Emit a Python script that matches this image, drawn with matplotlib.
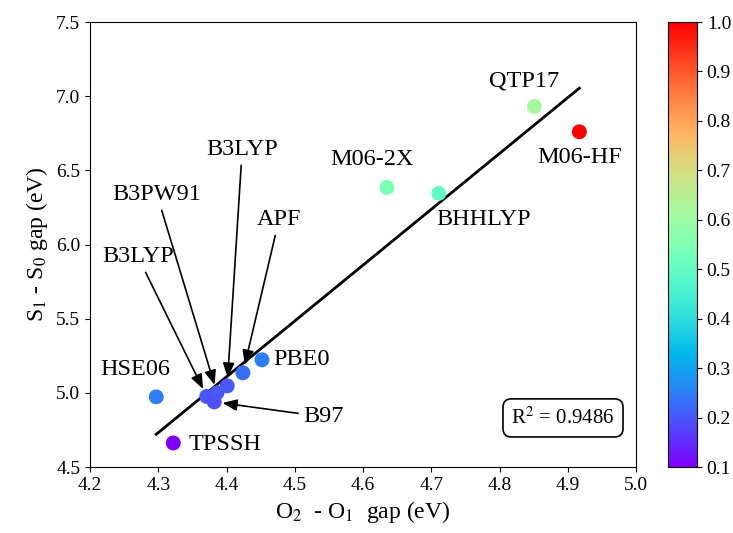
import numpy as np
import matplotlib
matplotlib.use("Agg")
import matplotlib.pyplot as plt

plt.rcParams['font.family'] = ['Liberation Serif', 'DejaVu Serif']
plt.rcParams['mathtext.fontset'] = 'stix'

# funcionales, gap O2-O1, gap S1-S0, fraccion HF
nombres = ["TPSSH", "HSE06", "B3LYP", "B97", "B3PW91", "B3LYP_b", "APF", "PBE0",
           "M06-2X", "BHHLYP", "QTP17", "M06-HF"]
gap_o = [4.322, 4.297, 4.371, 4.382, 4.386, 4.401, 4.424, 4.452,
         4.635, 4.711, 4.851, 4.917]
gap_s = [4.662, 4.973, 4.976, 4.939, 5.000, 5.047, 5.135, 5.223,
         6.385, 6.345, 6.930, 6.760]
frac_hf = [0.10, 0.25, 0.20, 0.19, 0.20, 0.20, 0.23, 0.25,
           0.54, 0.50, 0.62, 1.00]
r2_texto = "R$^2$ = 0.9486"

x = np.array(gap_o)
y = np.array(gap_s)
m, b = np.polyfit(x, y, 1)

fig = plt.figure(figsize=(7.33, 5.33), dpi=100)
ax = fig.add_axes([0.1228, 0.1238, 0.7449, 0.8349])
cax = fig.add_axes([0.9113, 0.1238, 0.0396, 0.8349])

xs = np.array([x.min(), x.max()])
ax.plot(xs, m * xs + b, color="black", lw=2, zorder=1)
sc = ax.scatter(x, y, c=frac_hf, cmap="rainbow", vmin=0.1, vmax=1.0, s=95, zorder=2)

fs = 17.5
# etiquetas simples
ax.text(4.345, 4.655, "TPSSH", fontsize=fs, ha="left", va="center")
ax.text(4.267, 5.155, "HSE06", fontsize=fs, ha="center", va="center")
ax.text(4.468, 5.223, "PBE0", fontsize=fs, ha="left", va="center")
ax.text(4.613, 6.574, "M06-2X", fontsize=fs, ha="center", va="center")
ax.text(4.777, 6.169, "BHHLYP", fontsize=fs, ha="center", va="center")
ax.text(4.836, 7.101, "QTP17", fontsize=fs, ha="center", va="center")
ax.text(4.918, 6.588, "M06-HF", fontsize=fs, ha="center", va="center")

# etiquetas con flecha
flecha = dict(arrowstyle="-|>,head_length=0.5,head_width=0.2", color="black",
              lw=1.2, shrinkA=2, shrinkB=6)
ax.annotate("B3LYP", xy=(gap_o[2], gap_s[2]), xytext=(4.270, 5.919), fontsize=fs,
            ha="center", va="center", arrowprops=flecha)
ax.annotate("B3PW91", xy=(gap_o[4], gap_s[4]), xytext=(4.298, 6.338), fontsize=fs,
            ha="center", va="center", arrowprops=flecha)
ax.annotate("B3LYP", xy=(gap_o[5], gap_s[5]), xytext=(4.423, 6.642), fontsize=fs,
            ha="center", va="center", arrowprops=flecha)
ax.annotate("APF", xy=(gap_o[6], gap_s[6]), xytext=(4.477, 6.169), fontsize=fs,
            ha="center", va="center", arrowprops=flecha)
ax.annotate("B97", xy=(gap_o[3], gap_s[3]), xytext=(4.513, 4.838), fontsize=fs,
            ha="left", va="center", arrowprops=flecha)

ax.text(4.893, 4.831, r2_texto, fontsize=15, ha="center", va="center",
        bbox=dict(boxstyle="round,pad=0.4", fc="white", ec="black", lw=1.2))

ax.set_xlim(4.2, 5.0)
ax.set_ylim(4.5, 7.5)
ax.set_xticks(np.arange(4.2, 5.01, 0.1))
ax.set_yticks(np.arange(4.5, 7.51, 0.5))
ax.set_xticklabels([f"{v:.1f}" for v in np.arange(4.2, 5.01, 0.1)])
ax.set_yticklabels([f"{v:.1f}" for v in np.arange(4.5, 7.51, 0.5)])
ax.tick_params(labelsize=14)
ax.set_xlabel("O$_2$  - O$_1$  gap (eV)", fontsize=17)
ax.set_ylabel("S$_1$ - S$_0$ gap (eV)", fontsize=17)

cb = fig.colorbar(sc, cax=cax)
cb.set_ticks(np.arange(0.1, 1.01, 0.1))
cb.set_ticklabels([f"{v:.1f}" for v in np.arange(0.1, 1.01, 0.1)])
cb.ax.tick_params(labelsize=14)

fig.savefig("out.png", dpi=100)
